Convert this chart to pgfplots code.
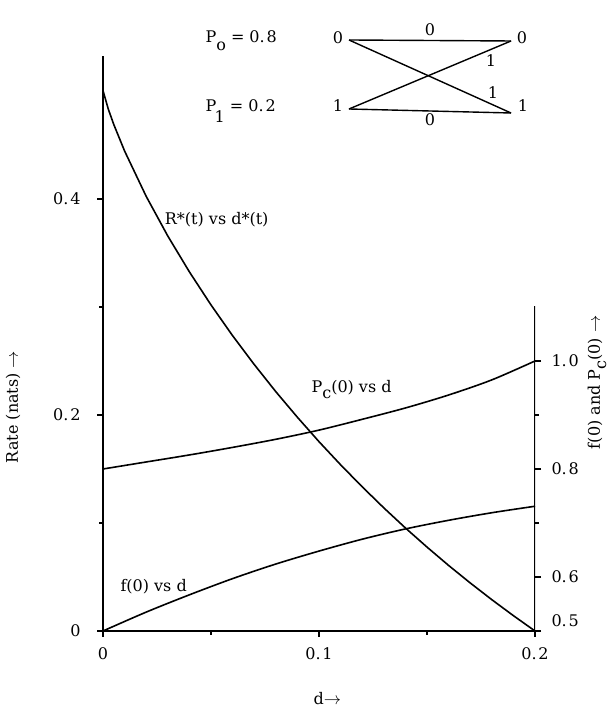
\documentclass[border=0pt]{standalone}
\usepackage{fontspec}
\setmainfont{DejaVu Serif}
\usepackage{pgfplots}
\pgfplotsset{compat=1.18}

% lowered subscript in the typewriter style of the figure
\newcommand\low[2][0.45em]{\raisebox{-#1}{#2}}
% decimal numbers set with a little room after the point
\newcommand\dec[2]{#1.\kern0.12em#2}

\begin{document}
\fontsize{16bp}{19bp}\selectfont
\begin{tikzpicture}[x=1bp,y=1bp]
\useasboundingbox (0,0) rectangle (609,711);

\pgfplotsset{
  frame/.style={
    at={(103bp,80bp)}, anchor=south west,
    scale only axis, width=432bp, height=575bp,
    xmin=0, xmax=0.2,
    tick align=outside,
    major tick length=6bp, minor tick length=4bp,
    every tick/.style={black, line width=1.1bp},
    every minor tick/.style={black, line width=1.1bp},
    axis line style={line width=1.3bp},
    tick label style={font=\fontsize{16bp}{19bp}\selectfont},
  },
  curve/.style={black, line width=1.6bp, no markers},
}

% rate axis (left) with the distortion axis
\begin{axis}[frame,
  ymin=0, ymax=0.5324,
  axis lines*=left,
  xtick pos=left, ytick pos=left,
  xtick={0,0.1,0.2}, xticklabels={0,\dec01,\dec02},
  minor xtick={0.05,0.15},
  ytick={0,0.2,0.4}, yticklabels={0,\dec02,\dec04},
  minor ytick={0.1,0.3},
  xticklabel style={yshift=-5bp},
  yticklabel style={xshift=-11bp},
]
\addplot[curve] coordinates {
  (0,0.5004) (0.0025,0.4829) (0.005,0.4689) (0.01,0.4444)
  (0.02,0.4024) (0.03,0.3657) (0.04,0.3325) (0.05,0.3019)
  (0.06,0.2734) (0.07,0.2468) (0.08,0.2216) (0.09,0.1979)
  (0.10,0.1753) (0.11,0.1539) (0.12,0.1335) (0.13,0.1140)
  (0.14,0.0954) (0.15,0.0777) (0.16,0.0607) (0.17,0.0445)
  (0.18,0.0290) (0.19,0.0142) (0.20,0.0000)
};
\end{axis}

% probability axis (right)
\begin{axis}[frame,
  ymin=0.5, ymax=1.5648,
  axis x line=none,
  axis y line*=right,
  y axis line style={draw=none},
  ytick pos=right,
  xtick=\empty,
  ytick={0.6,0.8,1.0}, yticklabels={\dec06,\dec08,\dec10},
  minor ytick={0.7,0.9},
  extra y ticks={0.5}, extra y tick labels={\dec05},
  extra y tick style={yticklabel style={yshift=10bp}},
  yticklabel style={xshift=5bp},
]
\draw[line width=1.3bp] (axis cs:0.2,0.5) -- (axis cs:0.2,1.102);
% P_c(0) vs d
\addplot[curve, smooth] coordinates {
  (0,0.800) (0.02,0.813) (0.04,0.826) (0.06,0.840) (0.08,0.855)
  (0.10,0.872) (0.12,0.892) (0.14,0.913) (0.16,0.937) (0.18,0.965)
  (0.20,1.000)
};
% f(0) vs d
\addplot[curve, smooth] coordinates {
  (0,0.500) (0.02,0.535) (0.04,0.567) (0.06,0.597) (0.08,0.624)
  (0.10,0.648) (0.12,0.670) (0.14,0.689) (0.16,0.705) (0.18,0.719)
  (0.20,0.731)
};
\end{axis}

% axis titles
\node[rotate=90] at (13,304) {Rate (nats) $\to$};
\node[rotate=90, anchor=east] at (597,401) {f(0) and P\low[0.4em]{c}(0) $\to$};
\node[anchor=west] at (308,12) {d$\to$};

% curve labels
\node[anchor=base east] at (274,486) {R*(t) vs d*(t)};
\node[anchor=base west] at (306,318) {P\low[0.35em]{c}(0) vs d};
\node[anchor=base west] at (115,119) {f(0) vs d};

% source probabilities
\node[anchor=base west] at (200,668) {P\low[0.5em]{o} = \dec08};
\node[anchor=base west] at (200,599) {P\kern-0.1em\low[0.65em]{1} = \dec02};

% binary channel sketch
\begin{scope}[line width=1.4bp]
  \draw (349,671) -- (511,670);
  \draw (349,602) -- (511,598);
  \draw (349,671) -- (511,598);
  \draw (349,602) -- (511,670);
\end{scope}
\node at (338,673) {0};
\node at (522,673) {0};
\node at (338,605) {1};
\node at (523,605) {1};
\node at (430,681) {0};
\node at (430,591) {0};
\node at (491,650) {1};
\node at (493,618) {1};
\end{tikzpicture}
\end{document}
